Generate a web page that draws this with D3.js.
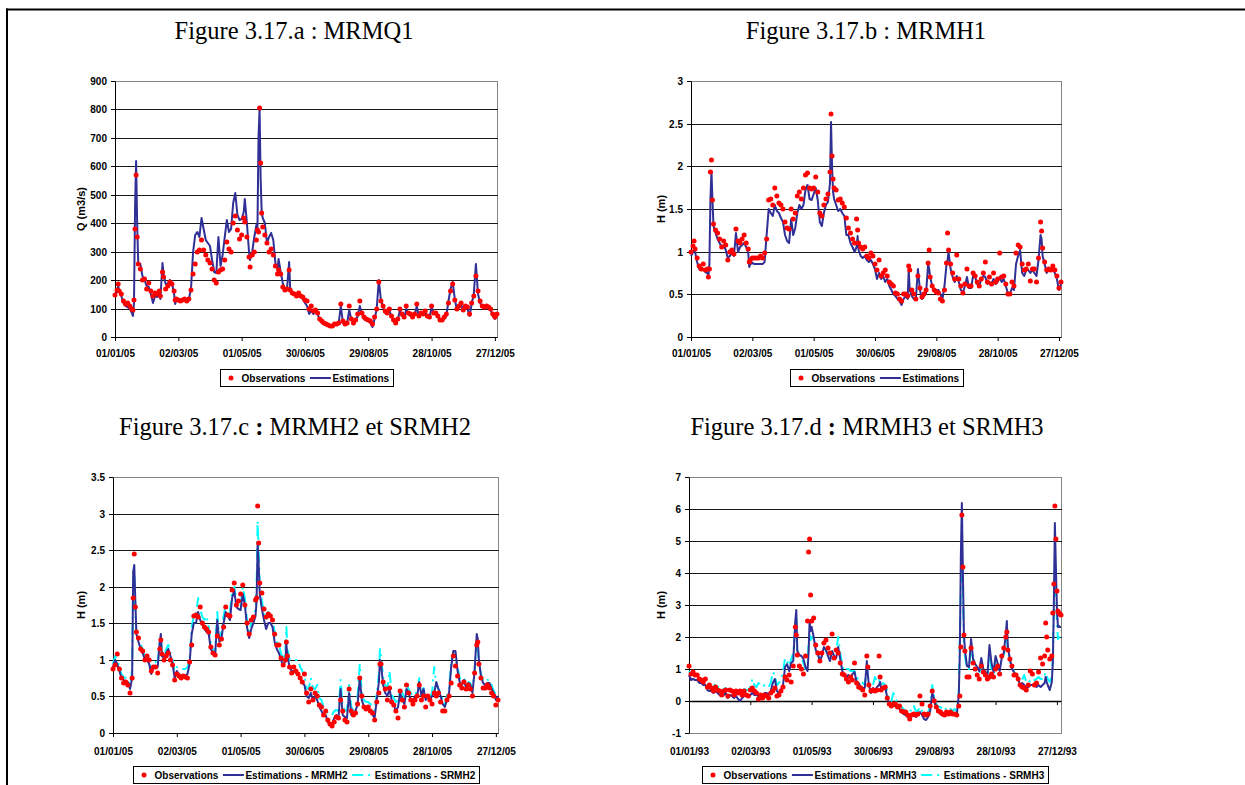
<!DOCTYPE html>
<html><head><meta charset="utf-8">
<script src="https://cdn.jsdelivr.net/npm/d3@7"></script>
<style>body{margin:0;background:#fff} svg{display:block}</style>
</head><body>
<script>
// ---------------- DATA ----------------
// day offsets from the first date of each panel
const xTickDays = [0, 60, 120, 180, 240, 300, 360];
const xLabels05 = ["01/01/05","02/03/05","01/05/05","30/06/05","29/08/05","28/10/05","27/12/05"];
const xLabels93 = ["01/01/93","02/03/93","01/05/93","30/06/93","29/08/93","28/10/93","27/12/93"];
const yTicksA = [0,100,200,300,400,500,600,700,800,900];
const yTicksB = [0,0.5,1,1.5,2,2.5,3];
const yTicksC = [0,0.5,1,1.5,2,2.5,3,3.5];
const yTicksD = [-1,0,1,2,3,4,5,6,7];

// Figure 3.17.a : MRMQ1 (Q, m3/s)
const daysA = [0,2,3,4,6,8,10,12,14,16,
17,18,19,20,21,22,24,26,28,30,
32,34,36,38,40,42,43,45,46,48,
50,52,54,56,57,58,60,62,64,66,
68,70,72,74,76,78,80,82,84,86,
88,90,92,94,96,98,100,102,104,106,
108,110,112,114,116,118,120,122,123,125,
127,128,130,132,134,135,136,137,138,139,
140,142,144,146,148,150,152,154,155,157,
159,161,163,165,166,168,170,172,174,176,
178,180,182,184,186,188,190,192,194,196,
198,200,202,204,206,208,210,212,214,216,
218,220,222,224,226,228,230,232,234,236,
238,240,242,244,246,248,250,252,254,256,
258,260,262,264,266,268,270,272,274,276,
278,280,282,284,286,288,290,292,294,296,
298,300,302,304,306,308,310,312,314,316,
318,320,322,324,326,328,330,332,334,336,
338,340,342,344,346,348,350,352,354,356,
358,360,362];
const obsA = [148,165,188,160,150,125,115,120,110,100,
95,130,380,568,352,255,240,200,205,170,
190,160,145,155,150,160,145,230,210,170,
180,195,185,160,130,135,130,128,130,132,
128,135,165,220,258,300,305,340,305,290,
270,260,240,200,190,230,235,240,270,335,
310,300,400,425,375,345,360,420,405,350,
280,245,290,300,340,375,370,805,612,435,
385,360,330,300,310,290,250,220,235,220,
175,165,170,235,165,155,150,145,155,145,
140,130,125,100,110,90,95,85,65,55,
48,45,42,38,40,45,45,50,115,55,
45,50,110,65,50,60,80,125,85,70,
65,60,55,45,70,100,195,125,110,90,
85,100,75,60,50,65,100,80,70,110,
85,80,70,80,115,75,85,80,90,75,
70,110,85,85,75,60,60,70,80,120,
160,185,130,100,110,120,95,110,105,80,
120,145,215,160,125,110,105,110,105,100,
80,70,80];
const estA = [140,160,180,165,145,120,110,105,100,85,
75,120,450,620,400,260,255,215,200,180,
175,150,120,145,140,150,135,260,220,185,
185,200,190,150,115,125,128,128,128,130,
130,135,170,300,360,370,350,420,380,340,
330,320,270,230,225,350,250,290,350,410,
370,380,470,505,430,410,415,440,485,400,
300,270,300,350,395,380,700,800,560,440,
420,400,330,350,365,340,260,240,275,230,
190,165,170,265,170,155,150,145,150,140,
135,120,110,80,95,80,90,80,60,50,
45,42,40,38,38,42,45,48,110,50,
45,48,95,60,48,55,75,110,80,65,
60,58,50,35,65,100,200,130,105,85,
80,95,70,58,48,60,95,75,68,100,
80,75,68,78,110,72,80,78,88,72,
68,105,82,82,72,58,55,65,75,125,
170,195,135,95,105,115,90,105,100,75,
115,150,255,150,120,105,105,108,100,95,
75,62,75];

// Figure 3.17.b : MRMH1 (H, m)
const daysB = [0,2,3,4,6,8,10,12,14,16,
17,18,19,20,21,22,24,26,28,30,
32,34,36,38,40,42,44,46,48,50,
52,54,56,57,58,60,62,64,66,68,
70,72,74,76,78,80,82,84,86,88,
90,92,94,96,98,100,102,104,106,108,
110,112,114,116,118,120,122,124,126,128,
130,132,134,136,137,138,139,140,142,144,
146,148,150,152,154,156,158,160,162,163,
164,166,168,170,172,174,176,178,180,182,
184,186,188,190,192,194,196,198,200,202,
204,206,208,210,212,213,214,216,218,220,
222,224,226,228,230,232,233,234,236,238,
240,242,244,246,248,250,251,252,254,256,
258,260,262,264,266,268,270,272,274,276,
278,280,282,284,286,288,290,292,294,296,
298,300,302,304,306,308,310,312,314,316,
318,320,322,324,326,328,330,332,334,336,
338,340,342,343,344,346,348,350,352,354,
356,358,360,362];
const obsB = [1.00,1.07,1.12,1.03,0.92,0.83,0.80,0.85,0.78,0.80,
0.70,0.80,1.93,2.08,1.60,1.33,1.25,1.22,1.15,1.05,
1.13,1.08,0.90,1.00,1.02,0.97,1.27,1.12,1.10,1.15,
1.20,1.10,1.03,0.88,0.90,0.92,0.93,0.92,0.92,0.95,
0.93,0.98,1.15,1.60,1.62,1.55,1.75,1.65,1.57,1.55,
1.50,1.35,1.28,1.27,1.50,1.38,1.45,1.65,1.70,1.62,
1.75,1.90,1.92,1.75,1.73,1.75,1.87,1.70,1.45,1.42,
1.55,1.62,1.68,1.93,2.61,2.12,1.85,1.75,1.72,1.60,
1.62,1.57,1.52,1.40,1.28,1.22,1.15,1.10,1.38,1.25,
1.10,1.05,1.03,1.05,0.95,0.92,0.98,0.95,0.85,0.78,
0.90,0.72,0.75,0.78,0.72,0.65,0.62,0.60,0.52,0.50,
0.45,0.42,0.50,0.50,0.48,0.83,0.78,0.55,0.50,0.45,
0.72,0.57,0.47,0.50,0.55,0.87,1.02,0.70,0.60,0.55,
0.53,0.52,0.45,0.42,0.55,0.87,1.22,1.02,0.85,0.75,
0.68,0.96,0.68,0.60,0.52,0.62,0.80,0.60,0.60,0.75,
0.72,0.65,0.60,0.68,0.75,0.88,0.65,0.70,0.62,0.75,
0.65,0.68,0.98,0.70,0.72,0.62,0.50,0.50,0.65,0.60,
0.98,1.08,1.05,0.85,0.78,0.80,0.85,0.66,0.80,0.80,
0.65,0.93,1.35,1.24,1.04,0.88,0.78,0.80,0.78,0.83,
0.78,0.72,0.58,0.65];
const estB = [0.95,1.00,1.03,1.00,0.88,0.80,0.78,0.80,0.76,0.75,
0.72,0.85,1.60,1.95,1.60,1.30,1.22,1.15,1.10,1.05,
1.08,1.02,0.92,0.95,0.98,0.95,1.22,1.00,1.05,1.08,
1.10,1.05,0.98,0.82,0.85,0.87,0.86,0.86,0.86,0.86,
0.86,0.88,1.20,1.50,1.45,1.42,1.55,1.48,1.45,1.40,
1.35,1.20,1.12,1.10,1.38,1.20,1.28,1.45,1.55,1.50,
1.55,1.72,1.78,1.62,1.60,1.68,1.75,1.60,1.35,1.30,
1.45,1.55,1.58,1.80,2.52,2.00,1.70,1.62,1.55,1.48,
1.50,1.45,1.42,1.20,1.20,1.10,1.05,1.00,1.05,1.18,
1.02,0.95,0.92,0.95,0.90,0.88,0.90,0.85,0.80,0.68,
0.75,0.68,0.72,0.65,0.68,0.60,0.55,0.50,0.48,0.45,
0.42,0.38,0.45,0.48,0.45,0.80,0.55,0.48,0.45,0.45,
0.80,0.55,0.45,0.48,0.52,0.85,0.80,0.70,0.60,0.55,
0.55,0.55,0.50,0.45,0.60,0.85,0.90,1.00,0.80,0.70,
0.65,0.72,0.65,0.55,0.52,0.60,0.70,0.58,0.58,0.72,
0.70,0.62,0.60,0.68,0.72,0.70,0.62,0.65,0.62,0.68,
0.62,0.65,0.70,0.65,0.68,0.60,0.52,0.50,0.58,0.55,
0.85,0.95,1.02,0.75,0.72,0.78,0.78,0.75,0.78,0.75,
0.72,0.90,1.20,1.15,0.95,0.85,0.75,0.78,0.80,0.80,
0.75,0.68,0.55,0.62];

// Figure 3.17.c : MRMH2 et SRMH2 (H, m)
const daysC = [0,2,4,6,8,10,12,14,16,18,
19,20,21,22,24,26,28,30,32,34,
36,38,40,42,44,45,46,48,50,52,
54,56,58,60,62,64,66,68,70,72,
74,76,78,80,82,84,86,88,90,92,
94,96,98,100,102,104,106,108,110,112,
114,116,118,120,122,124,126,128,130,132,
134,135,136,137,138,140,142,144,146,148,
150,152,154,156,158,160,162,163,164,166,
168,170,172,174,176,178,180,182,184,186,
188,190,192,194,196,198,200,202,204,206,
208,210,212,214,216,218,220,222,224,226,
228,230,232,234,236,238,240,242,244,246,
248,250,251,252,254,256,258,260,262,264,
266,268,270,272,274,276,278,280,282,284,
286,288,290,292,294,296,298,300,302,304,
306,308,310,312,314,316,318,320,322,324,
326,328,330,332,334,336,338,340,342,343,
344,346,348,350,352,354,356,358,360,362];
const obsC = [.87,.93,1.08,.87,.75,.68,.70,.65,.55,.75,
1.85,2.45,1.72,1.38,1.30,1.15,1.12,1.0,1.05,1.0,
.85,.90,.90,.82,1.15,1.27,1.08,1.0,1.05,1.10,
1.0,.93,.72,.80,.78,.75,.78,.77,.75,.97,
1.2,1.6,1.62,1.58,1.72,1.5,1.45,1.42,1.38,1.18,
1.1,1.07,1.32,1.2,1.28,1.45,1.72,1.62,1.6,1.95,
2.05,1.75,1.8,1.9,2.02,1.75,1.5,1.35,1.55,1.58,
1.82,1.85,3.1,2.6,2.05,1.92,1.7,1.58,1.63,1.6,
1.55,1.35,1.2,1.2,1.02,.93,1.0,1.25,1.05,.9,
.82,.9,.85,.8,.75,.7,.8,.55,.42,.6,
.45,.55,.5,.38,.35,.25,.3,.18,.12,.1,
.15,.22,.2,.45,.3,.18,.15,.6,.3,.25,
.28,.4,.75,.5,.35,.33,.35,.3,.28,.18,
.42,.55,.95,.95,.7,.6,.45,.62,.42,.38,
.3,.2,.58,.45,.35,.65,.55,.45,.4,.45,
.5,.65,.45,.5,.35,.5,.45,.4,.55,.5,
.55,.42,.3,.3,.45,.5,.68,1.05,.92,.78,
.65,.62,.7,.6,.65,.6,.5,.82,1.2,1.25,
.95,.75,.62,.62,.65,.62,.55,.5,.38,.45];
const mrmh2 = [.90,1.0,.95,.85,.75,.72,.70,.70,.60,.75,
2.2,2.3,1.8,1.35,1.25,1.15,1.10,1.0,1.0,.95,
.80,.90,.92,.90,1.25,1.35,1.05,1.02,1.10,1.15,
1.05,.95,.75,.85,.80,.78,.78,.78,.80,.95,
1.35,1.5,1.5,1.65,1.55,1.48,1.42,1.38,1.35,1.15,
1.1,1.05,1.55,1.25,1.3,1.5,1.65,1.6,1.55,1.85,
1.95,1.72,1.7,1.68,1.9,1.75,1.45,1.3,1.42,1.5,
1.6,1.8,2.6,2.3,1.9,1.7,1.55,1.42,1.5,1.5,
1.45,1.25,1.15,1.1,1.0,.92,.98,1.22,1.05,.9,
.85,.85,.82,.8,.75,.68,.65,.5,.48,.55,
.45,.5,.45,.35,.3,.25,.25,.15,.12,.12,
.2,.25,.2,.6,.25,.22,.2,.55,.25,.25,
.3,.4,.75,.45,.35,.35,.35,.3,.25,.2,
.45,.7,1.0,.95,.65,.55,.5,.6,.45,.38,
.3,.35,.55,.45,.4,.6,.55,.45,.42,.5,
.5,.7,.5,.6,.45,.5,.45,.5,.55,.7,
.6,.5,.4,.35,.45,.55,.9,1.12,1.12,.85,
.7,.65,.72,.62,.68,.65,.55,.85,1.35,1.28,
1.0,.78,.68,.65,.68,.68,.6,.55,.45,.5];
const srmh2 = [.95,1.05,1.0,.90,.80,.76,.75,.72,.65,.85,
2.2,2.2,1.7,1.35,1.30,1.20,1.15,1.05,1.05,1.0,
.85,.95,.97,.95,1.30,1.30,1.10,1.05,1.15,1.20,
1.10,1.0,.85,.90,.88,.88,.88,.88,.90,1.0,
1.45,1.6,1.6,1.85,1.7,1.58,1.55,1.6,1.45,1.2,
1.15,1.1,1.65,1.3,1.4,1.6,1.75,1.7,1.65,1.95,
2.0,1.8,1.8,1.75,2.0,1.85,1.55,1.38,1.5,1.6,
1.7,2.0,2.9,2.5,2.0,1.8,1.65,1.55,1.65,1.62,
1.55,1.4,1.25,1.2,1.1,1.0,1.1,1.45,1.15,1.0,
1.0,1.0,1.0,1.0,.9,.85,.78,.62,.6,.75,
.62,.6,.65,.48,.45,.35,.33,.28,.25,.25,
.3,.32,.3,.72,.35,.32,.3,.65,.35,.32,
.38,.5,.95,.55,.45,.42,.42,.4,.35,.3,
.55,.8,1.15,1.05,.75,.65,.62,.85,.52,.48,
.42,.45,.6,.55,.48,.65,.6,.55,.5,.55,
.55,.75,.55,.62,.5,.55,.5,.55,.9,.65,
.6,.55,.45,.4,.5,.6,1.0,1.1,1.05,.9,
.75,.72,.75,.68,.7,.68,.6,.85,1.3,1.2,
.95,.8,.72,.7,.72,.72,.65,.58,.52,.55];

// Figure 3.17.d : MRMH3 et SRMH3 (H, m)
const daysD = [0,2,4,6,8,10,12,14,16,18,
20,22,24,26,28,30,32,34,36,38,
40,42,44,46,48,50,52,54,56,58,
60,62,64,66,68,70,72,74,76,78,
80,82,84,86,88,90,92,94,96,98,
100,102,104,105,106,108,110,112,114,116,
117,118,119,120,122,124,126,128,130,132,
134,136,138,140,142,144,146,148,150,152,
154,156,158,160,162,164,166,168,170,172,
174,175,176,178,180,182,184,186,187,188,
190,192,194,196,198,200,202,204,206,208,
210,212,214,216,218,220,222,224,226,228,
230,232,234,236,238,240,242,244,246,248,
250,252,254,256,258,260,262,264,265,266,
267,268,269,270,272,274,276,278,280,282,
284,286,288,290,292,294,296,298,300,302,
304,306,308,310,311,312,314,316,318,320,
322,324,326,328,330,332,334,336,338,340,
342,344,346,348,349,350,351,353,355,356,
357,358,359,360,361,362,363,364];
const obsD = [1.1,.85,.9,.8,.8,.7,.65,.6,.7,.45,
.5,.4,.3,.45,.35,.3,.2,.3,.35,.15,
.35,.3,.2,.3,.25,.3,.2,.3,.2,.15,
.35,.4,.3,.25,.05,.2,.1,.2,.15,.1,
.25,.3,.4,.15,.2,.3,.45,.75,.65,.8,
.6,1.1,2.3,2.05,1.45,1.1,1.0,.85,1.4,2.5,
4.65,5.05,3.3,2.5,2.6,1.75,1.5,1.25,1.5,1.8,
1.9,1.65,1.5,2.1,1.35,1.6,1.5,1.2,.85,.8,
.7,.6,.75,.65,1.2,.55,.45,.4,.35,.2,
1.4,1.05,.5,.3,.35,.3,.35,1.4,.75,.35,
.4,.45,.1,-.1,-.15,-.1,-.1,-.2,-.15,-.3,
-.35,-.35,-.45,-.55,-.45,-.4,-.45,-.4,.15,-.1,
-.4,-.45,-.4,-.15,.3,0,-.2,-.3,-.35,-.4,
-.45,-.35,-.4,-.35,-.4,-.4,-.45,-.15,.15,1.7,
5.8,4.2,2.05,1.55,.75,.75,1.65,1.2,1.0,.8,
.7,1.1,.9,.8,.7,.75,.85,.75,1.0,1.1,
.85,1.4,1.65,2.0,2.15,1.6,1.3,1.1,.8,.8,
.7,.5,.45,.4,.35,.5,.95,.85,.5,.55,
.9,1.35,1.15,1.4,2.45,2.0,1.6,1.3,1.4,2.75,
3.65,6.08,5.05,3.45,2.8,2.75,2.72,2.7];
const mrmh3 = [.8,.65,.7,.65,.65,.55,.55,.5,.5,.35,
.3,.3,.25,.3,.25,.2,.15,.2,.25,.1,
.2,.15,.1,.15,.05,0,.1,.15,.15,.15,
.2,.25,.2,.2,.15,.2,.2,.25,.25,.2,
.3,.55,.7,.3,.25,.35,.5,1.05,1.15,.95,
1.2,1.25,2.5,2.85,1.55,1.45,1.4,1.3,1.05,.95,
1.5,2.5,2.2,2.3,2.0,1.6,1.5,1.25,1.4,1.7,
1.6,1.4,1.25,1.55,1.4,1.35,1.7,1.3,.95,.8,
.75,.8,.7,.85,.9,.6,.55,.45,.4,.4,
1.25,.8,.5,.25,.4,.35,.45,.5,.6,.4,
.4,.45,.1,-.1,-.2,-.15,-.15,-.2,-.25,-.35,
-.4,-.45,-.5,-.55,-.45,-.4,-.5,-.45,-.35,-.45,
-.55,-.6,-.5,-.3,.25,.05,-.2,-.35,-.4,-.45,
-.45,-.4,-.4,-.4,-.4,-.4,-.45,.2,1.5,4.5,
6.2,4.0,2.1,1.6,1.1,1.05,1.95,1.3,1.15,1.05,
.95,1.35,1.0,.9,.8,1.75,1.2,.9,1.4,1.2,
.95,1.35,1.5,2.1,2.5,1.7,1.3,1.0,.9,.8,
.7,.5,.55,.5,.4,.45,.5,.5,.5,.45,
.5,.45,.5,.55,.75,.6,.5,.35,.6,1.2,
3.0,5.55,4.2,2.9,2.3,2.35,2.3,2.3];
const srmh3 = [.95,.85,.85,.8,.78,.72,.7,.65,.62,.55,
.5,.45,.45,.55,.45,.4,.35,.38,.4,.3,
.35,.32,.3,.35,.3,.28,.3,.38,.35,.35,
.45,.7,.5,.45,.55,.5,.45,.5,.45,.45,
.55,.9,.8,.5,.55,.7,.9,1.35,1.25,1.1,
1.3,1.5,2.3,2.6,1.4,1.4,1.35,1.2,1.0,1.1,
1.8,2.1,1.9,2.0,1.8,1.6,1.45,1.3,1.45,1.65,
1.55,1.5,1.45,1.55,1.5,1.55,2.0,1.5,1.1,.95,
1.0,1.0,.95,.95,.95,.75,.65,.6,.55,.5,
1.05,.8,.55,.45,.5,.75,.6,.65,.5,.5,
.55,.5,.3,0,0,.25,.05,-.05,-.1,-.2,
-.25,-.3,-.35,-.4,-.15,-.15,-.3,-.3,-.2,-.3,
-.35,-.4,-.35,-.15,.5,.1,-.1,-.2,-.2,-.25,
-.3,-.2,-.25,-.25,-.3,-.25,-.3,.3,2.0,3.5,
5.1,3.5,1.8,1.4,1.0,1.0,1.7,1.3,1.0,.9,
.85,1.2,1.0,.85,.8,1.4,1.0,.85,1.2,1.1,
1.0,1.3,1.45,1.8,2.0,1.6,1.25,1.05,.9,.85,
.75,.7,.65,.8,.6,.65,.6,.55,.65,.7,
.75,.7,.7,.85,.75,.8,.7,.6,.8,1.4,
2.8,4.5,3.6,2.5,1.95,2.0,1.9,1.95];

// ---------------- DRAWING ----------------
const SANS = "'Liberation Sans', Arial, Helvetica, sans-serif";
const SERIF = "'Liberation Serif', 'Times New Roman', Times, serif";
const RED = "#ff0000", NAVY = "#2f2f96", CYAN = "#00ffff";
const DASH = "11,5,2,5";
const DOT_R = 2.5;

function check(name, days, arr) {
  if (days.length !== arr.length) throw new Error(name + ": " + arr.length + " values vs " + days.length + " days");
}

const svg = d3.select("body").append("svg").attr("width", 1245).attr("height", 785);
svg.append("rect").attr("width", 1245).attr("height", 785).attr("fill", "#fff");
// page frame (top and left rules)
svg.append("line").attr("x1", 6).attr("x2", 1245).attr("y1", 9.5).attr("y2", 9.5).attr("stroke", "#000").attr("stroke-width", 2);
svg.append("line").attr("x1", 7).attr("x2", 7).attr("y1", 8.5).attr("y2", 785).attr("stroke", "#000").attr("stroke-width", 2);

const panels = [
  { title: ["Figure 3.17.a ", ":", " MRMQ1"], boldColon: false, titleX: 294, titleY: 39,
    left: 115, right: 497, top: 81, bottom: 337, xEnd: 362, yDomain: [0, 900], yTicks: yTicksA,
    xLabels: xLabels05, axisAt: 0, labelPad: 13, yLabel: "Q (m3/s)", yLabX: 81, yLabY: 209, legTop: 369,
    days: daysA,
    series: [
      { values: estA, type: "line", color: NAVY, label: "Estimations" },
      { values: obsA, type: "dot", color: RED, label: "Observations" }
    ],
    legend: ["Observations", "Estimations"] },
  { title: ["Figure 3.17.b ", ":", " MRMH1"], boldColon: false, titleX: 866, titleY: 39,
    left: 691, right: 1061, top: 81, bottom: 337, xEnd: 362, yDomain: [0, 3], yTicks: yTicksB,
    xLabels: xLabels05, axisAt: 0, labelPad: 13, yLabel: "H (m)", yLabX: 661, yLabY: 209, legTop: 369,
    days: daysB,
    series: [
      { values: estB, type: "line", color: NAVY, label: "Estimations" },
      { values: obsB, type: "dot", color: RED, label: "Observations" }
    ],
    legend: ["Observations", "Estimations"] },
  { title: ["Figure 3.17.c ", ":", " MRMH2 et SRMH2"], boldColon: true, titleX: 295, titleY: 435,
    left: 113, right: 498, top: 477, bottom: 733, xEnd: 362, yDomain: [0, 3.5], yTicks: yTicksC,
    xLabels: xLabels05, axisAt: 0, labelPad: 14.5, yLabel: "H (m)", yLabX: 81.5, yLabY: 605, legTop: 766,
    days: daysC,
    series: [
      { values: srmh2, type: "dash", color: CYAN, label: "Estimations - SRMH2" },
      { values: mrmh2, type: "line", color: NAVY, label: "Estimations - MRMH2" },
      { values: obsC, type: "dot", color: RED, label: "Observations" }
    ],
    legend: ["Observations", "Estimations - MRMH2", "Estimations - SRMH2"] },
  { title: ["Figure 3.17.d ", ":", " MRMH3 et SRMH3"], boldColon: true, titleX: 867, titleY: 435,
    left: 689, right: 1061, top: 477, bottom: 733, xEnd: 364, yDomain: [-1, 7], yTicks: yTicksD,
    xLabels: xLabels93, axisAt: 0, labelPad: 14.5, yLabel: "H (m)", yLabX: 661, yLabY: 605, legTop: 766,
    days: daysD,
    series: [
      { values: srmh3, type: "dash", color: CYAN, label: "Estimations - SRMH3" },
      { values: mrmh3, type: "line", color: NAVY, label: "Estimations - MRMH3" },
      { values: obsD, type: "dot", color: RED, label: "Observations" }
    ],
    legend: ["Observations", "Estimations - MRMH3", "Estimations - SRMH3"] }
];

function drawPanel(p) {
  p.series.forEach(s => check(p.title[0] + s.label, p.days, s.values));
  const x = d3.scaleLinear().domain([0, p.xEnd]).range([p.left, p.right]);
  const y = d3.scaleLinear().domain(p.yDomain).rangeRound([p.bottom, p.top]);
  const g = svg.append("g");

  // title
  const t = g.append("text").attr("x", p.titleX).attr("y", p.titleY)
    .attr("text-anchor", "middle").style("font-family", SERIF).style("font-size", "24.5px")
    .style("white-space", "pre").attr("fill", "#000");
  t.append("tspan").text(p.title[0]);
  t.append("tspan").style("font-weight", p.boldColon ? "bold" : "normal").text(p.title[1]);
  t.append("tspan").text(p.title[2]);

  // plot-area border
  g.append("rect").attr("x", p.left + 0.5).attr("y", p.top + 0.5)
    .attr("width", p.right - p.left).attr("height", p.bottom - p.top)
    .attr("fill", "none").attr("stroke", "#858585").attr("stroke-width", 1);

  // horizontal gridlines
  g.append("g").selectAll("line")
    .data(p.yTicks.filter(v => v !== p.yDomain[0] && v !== p.yDomain[1] && v !== p.axisAt))
    .join("line")
    .attr("x1", p.left).attr("x2", p.right + 1)
    .attr("y1", d => y(d) + 0.5).attr("y2", d => y(d) + 0.5)
    .attr("stroke", "#1a1a1a").attr("stroke-width", 1);

  // y axis
  const ya = g.append("g").attr("transform", `translate(${p.left},0)`)
    .call(d3.axisLeft(y).tickValues(p.yTicks).tickSize(4).tickSizeOuter(0).tickPadding(4)
      .tickFormat(v => String(v)));
  ya.select(".domain").attr("stroke", "#000");
  ya.selectAll(".tick line").attr("stroke", "#000");
  ya.selectAll("text").style("font-family", SANS).style("font-size", "10px")
    .style("font-weight", "bold").attr("fill", "#000");

  // x axis line + tick marks (at value axisAt)
  const xa = g.append("g").attr("transform", `translate(0,${y(p.axisAt)})`)
    .call(d3.axisBottom(x).tickValues(xTickDays).tickSize(4).tickSizeOuter(0).tickFormat(""));
  xa.select(".domain").attr("stroke", "#000").attr("stroke-width", p.axisAt !== p.yDomain[0] ? 1.5 : 1);
  xa.selectAll(".tick line").attr("stroke", "#000");

  // x tick labels (low position)
  const xl = g.append("g").attr("transform", `translate(0,${p.bottom})`)
    .call(d3.axisBottom(x).tickValues(xTickDays).tickSize(0).tickPadding(p.labelPad)
      .tickFormat((d, i) => p.xLabels[i]));
  xl.select(".domain").remove();
  xl.selectAll("text").style("font-family", SANS).style("font-size", "10px")
    .style("font-weight", "bold").attr("fill", "#000");

  // y axis title
  g.append("text").attr("transform", `translate(${p.yLabX},${p.yLabY}) rotate(-90)`)
    .attr("text-anchor", "middle").attr("dy", "0.35em")
    .style("font-family", SANS).style("font-size", "11px").style("font-weight", "bold")
    .text(p.yLabel);

  // series
  const idx = d3.range(p.days.length);
  p.series.forEach(s => {
    if (s.type === "dot") {
      g.append("g").selectAll("circle").data(idx).join("circle")
        .attr("cx", i => x(p.days[i])).attr("cy", i => y(s.values[i]))
        .attr("r", DOT_R).attr("fill", s.color);
    } else {
      const line = d3.line().x(i => x(p.days[i])).y(i => y(s.values[i]));
      g.append("path").datum(idx).attr("d", line).attr("fill", "none")
        .attr("stroke", s.color).attr("stroke-width", 2).attr("stroke-linejoin", "round")
        .attr("stroke-dasharray", s.type === "dash" ? DASH : null);
    }
  });

  // legend
  const lg = svg.append("g");
  const box = lg.append("rect").attr("fill", "#fff").attr("stroke", "#000").attr("stroke-width", 1);
  const parts = [];
  let cur = 0;
  p.legend.forEach((lab, i) => {
    const s = p.series.find(q => q.label === lab);
    if (s.type === "dot") {
      parts.push({ kind: "dot", x: cur + 11, color: s.color });
      cur += 21.5;
    } else {
      cur += 4.5;
      parts.push({ kind: s.type, x1: cur, x2: cur + 21, color: s.color });
      cur += 22.5;
    }
    const tx = lg.append("text").text(lab).style("font-family", SANS).style("font-size", "10px")
      .style("font-weight", "bold").attr("fill", "#000");
    parts.push({ kind: "text", el: tx, x: cur });
    cur += tx.node().getComputedTextLength();
  });
  const width = cur + 3.5;
  const L = Math.round((p.left + p.right) / 2 - width / 2);
  const T = p.legTop, H = 17, cy = T + 0.5 + H / 2;
  box.attr("x", L + 0.5).attr("y", T + 0.5).attr("width", Math.round(width)).attr("height", H);
  parts.forEach(pt => {
    if (pt.kind === "dot") {
      lg.append("circle").attr("cx", L + pt.x).attr("cy", cy).attr("r", DOT_R).attr("fill", pt.color);
    } else if (pt.kind === "text") {
      pt.el.attr("x", L + pt.x).attr("y", cy + 3.6);
    } else {
      lg.append("line").attr("x1", L + pt.x1).attr("x2", L + pt.x2).attr("y1", cy).attr("y2", cy)
        .attr("stroke", pt.color).attr("stroke-width", 2)
        .attr("stroke-dasharray", pt.kind === "dash" ? DASH : null);
    }
  });
}

panels.forEach(drawPanel);
</script>
</body></html>
